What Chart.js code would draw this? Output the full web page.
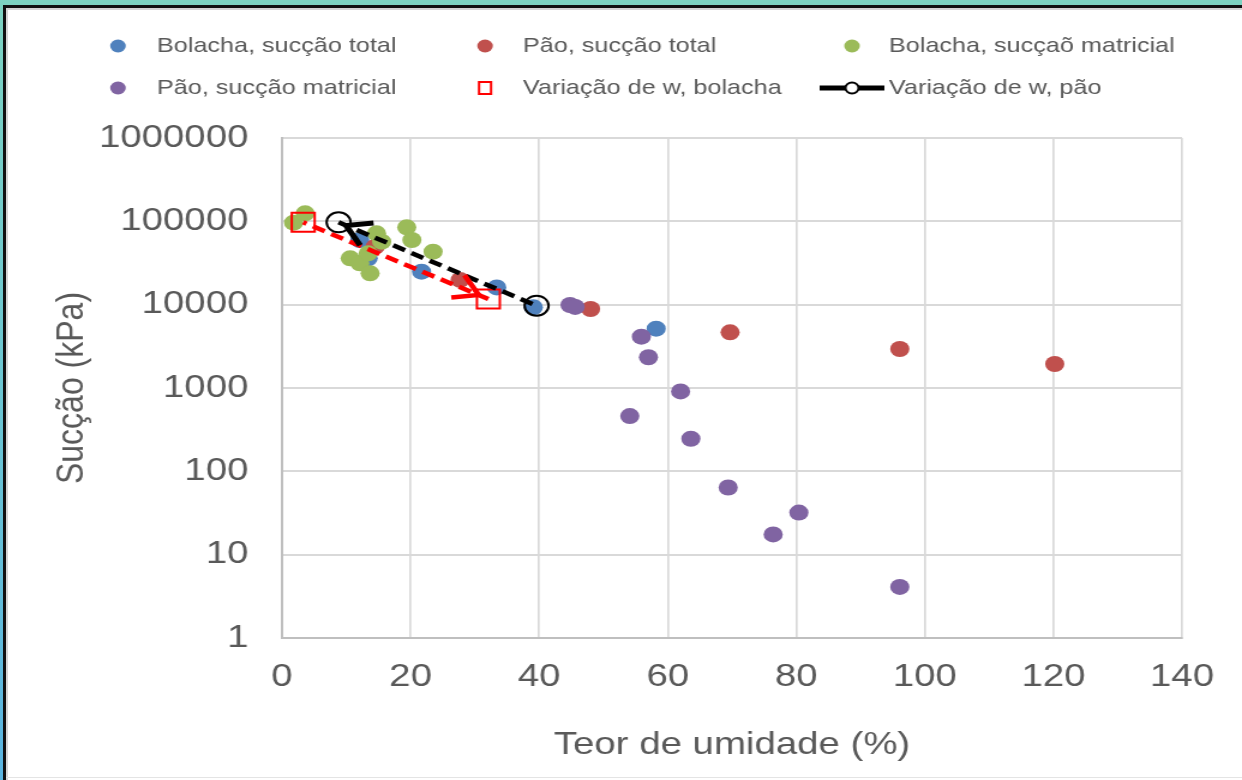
<!DOCTYPE html>
<html>
<head>
<meta charset="utf-8">
<script src="https://cdn.jsdelivr.net/npm/chart.js@4"></script>
<style>
  html, body { margin: 0; padding: 0; background: #fff; width: 1242px; height: 780px; overflow: hidden; }
  #wrap { position: absolute; left: 0; top: 0; width: 1035px; height: 780px; transform: scaleX(1.2); transform-origin: 0 0; }
  #c { display: block; }
  .b { position: absolute; }
</style>
</head>
<body>
<div id="wrap"><canvas id="c" width="1035" height="780"></canvas></div>
<div class="b" style="left:0;top:0;width:1242px;height:5px;background:#7dd3c1"></div>
<div class="b" style="left:0;top:0;width:3px;height:780px;background:linear-gradient(#7dd3c1,#6cc6d2 50%,#5ab4e0)"></div>
<div class="b" style="left:3px;top:5px;width:1239px;height:3px;background:#111"></div>
<div class="b" style="left:3px;top:5px;width:3px;height:775px;background:#111"></div>
<div class="b" style="left:6px;top:8px;width:1236px;height:2px;background:#d4d4d4"></div>
<div class="b" style="left:6px;top:8px;width:2px;height:772px;background:#d4d4d4"></div>
<div class="b" style="left:6px;top:777px;width:1236px;height:1px;background:#e4e4e4"></div>
<script>
// ---- data ----
const seriesLabels = [
  'Bolacha, sucção total',
  'Pão, sucção total',
  'Bolacha, sucçaõ matricial',
  'Pão, sucção matricial',
  'Variação de w, bolacha',
  'Variação de w, pão'
];

const bolachaTotalX = [12.1, 13.4, 21.7, 33.4, 39.1, 58.2];
const bolachaTotalY = [59700, 36000, 24900, 16100, 9300, 5150];

const paoTotalX = [14.5, 27.7, 48.0, 69.7, 96.1, 120.2];
const paoTotalY = [49600, 19800, 8870, 4660, 2940, 1940];

const bolachaMatX = [1.8, 3.6, 10.6, 12.1, 13.4, 13.7, 14.7, 15.5, 19.4, 20.2, 23.5];
const bolachaMatY = [96400, 124800, 36000, 31400, 41300, 23800, 71800, 57000, 84800, 59700, 43200];

const paoMatX = [44.8, 45.6, 54.1, 55.9, 57.0, 62.0, 63.6, 69.4, 76.4, 80.4, 96.1];
const paoMatY = [9900, 9400, 460, 4130, 2340, 910, 246, 64, 17.5, 32, 4.1];

const varBolachaX = [3.3, 32.1];
const varBolachaY = [97300, 11700];

const varPaoX = [8.8, 39.6];
const varPaoY = [97300, 9730];

const xTickValues = [0, 20, 40, 60, 80, 100, 120, 140];
const yTickValues = [1, 10, 100, 1000, 10000, 100000, 1000000];

const xTitle = 'Teor de umidade (%)';
const yTitle = 'Sucção (kPa)';

// ---- build ----
const pts = (xs, ys) => xs.map((x, i) => ({ x: x, y: ys[i] }));
const BLUE = '#4f81bd', RED = '#c0504d', GREEN = '#9bbb59', PURPLE = '#8064a2';
const TXT = '#595959';
const FONT = "'Liberation Sans', Arial, sans-serif";

const dot = (label, data, color, order) => ({
  label, data, order, showLine: false,
  pointStyle: 'circle', pointRadius: 8, pointHoverRadius: 8,
  backgroundColor: color, borderColor: color, pointBorderWidth: 0
});

const datasets = [
  dot(seriesLabels[0], pts(bolachaTotalX, bolachaTotalY), BLUE, 6),
  dot(seriesLabels[1], pts(paoTotalX, paoTotalY), RED, 5),
  dot(seriesLabels[2], pts(bolachaMatX, bolachaMatY), GREEN, 4),
  dot(seriesLabels[3], pts(paoMatX, paoMatY), PURPLE, 3),
  {
    label: seriesLabels[4], data: pts(varBolachaX, varBolachaY), order: 2,
    showLine: true, borderColor: '#ff0000', borderWidth: 4.5, borderDash: [11, 6], borderDashOffset: 8,
    pointStyle: 'rect', pointRadius: 13.5, pointHoverRadius: 13.5,
    pointBackgroundColor: 'rgba(0,0,0,0)', pointBorderColor: '#ff0000', pointBorderWidth: 2
  },
  {
    label: seriesLabels[5], data: pts(varPaoX, varPaoY), order: 1,
    showLine: true, borderColor: '#000000', borderWidth: 4.5, borderDash: [11, 6],
    pointStyle: 'circle', pointRadius: 10, pointHoverRadius: 10,
    pointBackgroundColor: 'rgba(0,0,0,0)', pointBorderColor: '#000000', pointBorderWidth: 2
  }
];

const arrowCfg = { 4: { at: 'end', back: 9, len: 23, color: '#ff0000', w: 4.5 },
                   5: { at: 'start', back: 7, len: 23, color: '#000000', w: 5 } };

const arrowPlugin = {
  id: 'arrows',
  afterDatasetsDraw(chart) {
    const ctx = chart.ctx;
    Object.keys(arrowCfg).forEach(k => {
      const cfg = arrowCfg[k];
      const p = chart.getDatasetMeta(+k).data;
      const n = p.length;
      const tip = cfg.at === 'end' ? p[n - 1] : p[0];
      const from = cfg.at === 'end' ? p[n - 2] : p[1];
      const ang = Math.atan2(tip.y - from.y, tip.x - from.x);
      const tx = tip.x - Math.cos(ang) * cfg.back, ty = tip.y - Math.sin(ang) * cfg.back;
      const sp = Math.PI / 5.5;
      ctx.save();
      ctx.strokeStyle = cfg.color; ctx.lineWidth = cfg.w; ctx.setLineDash([]);
      ctx.lineCap = 'butt'; ctx.lineJoin = 'miter';
      ctx.beginPath();
      ctx.moveTo(tx - cfg.len * Math.cos(ang - sp), ty - cfg.len * Math.sin(ang - sp));
      ctx.lineTo(tx, ty);
      ctx.lineTo(tx - cfg.len * Math.cos(ang + sp), ty - cfg.len * Math.sin(ang + sp));
      ctx.stroke();
      ctx.restore();
    });
  }
};

const legendPlugin = {
  id: 'customLegend',
  afterDraw(chart) {
    const ctx = chart.ctx;
    const colMarker = [98.3, 404.2, 710];
    const colText = [130.8, 435.8, 740.8];
    const rowY = [46, 88];
    ctx.save();
    ctx.font = '21px ' + FONT;
    ctx.textBaseline = 'middle';
    ctx.textAlign = 'left';
    chart.data.datasets.forEach((ds, i) => {
      const col = i % 3, row = Math.floor(i / 3);
      const mx = colMarker[col], my = rowY[row];
      if (i < 4) {
        ctx.fillStyle = ds.backgroundColor;
        ctx.beginPath(); ctx.arc(mx, my, 6.5, 0, Math.PI * 2); ctx.fill();
      } else if (i === 4) {
        ctx.strokeStyle = '#ff0000'; ctx.lineWidth = 2;
        ctx.strokeRect(mx - 5, my - 6, 10, 12);
      } else {
        ctx.strokeStyle = '#000'; ctx.lineWidth = 5;
        ctx.beginPath(); ctx.moveTo(mx - 27, my); ctx.lineTo(mx + 27, my); ctx.stroke();
        ctx.fillStyle = '#fff'; ctx.lineWidth = 2;
        ctx.beginPath(); ctx.arc(mx, my, 5.5, 0, Math.PI * 2); ctx.fill(); ctx.stroke();
      }
      ctx.fillStyle = TXT;
      ctx.fillText(ds.label, colText[col], my);
    });
    ctx.restore();
  }
};

new Chart(document.getElementById('c'), {
  type: 'scatter',
  data: { datasets },
  plugins: [arrowPlugin, legendPlugin],
  options: {
    responsive: false,
    animation: false,
    devicePixelRatio: 1,
    layout: { padding: { left: 40.8, right: 50, top: 138, bottom: 15.8 } },
    plugins: { legend: { display: false }, tooltip: { enabled: false } },
    scales: {
      x: {
        type: 'linear', min: 0, max: 140,
        afterBuildTicks: s => { s.ticks = xTickValues.map(v => ({ value: v })); },
        afterFit: s => { s.height = 780 - 638 - 15.8; },
        ticks: { color: TXT, font: { family: FONT, size: 32 }, padding: 20, maxRotation: 0, autoSkip: false,
                 callback: v => String(v) },
        grid: { color: '#d9d9d9', lineWidth: 1.7, drawTicks: false },
        border: { color: '#bfbfbf', width: 2 },
        title: { display: true, text: xTitle, color: TXT, font: { family: FONT, size: 32 }, padding: 0 }
      },
      y: {
        type: 'logarithmic', min: 1, max: 1000000,
        afterBuildTicks: s => { s.ticks = yTickValues.map(v => ({ value: v })); },
        afterFit: s => { s.width = 235 - 40.8; },
        ticks: { color: TXT, font: { family: FONT, size: 32 }, padding: 28, autoSkip: false,
                 callback: v => String(v) },
        grid: { color: '#d9d9d9', lineWidth: 2, drawTicks: false },
        border: { color: '#bfbfbf', width: 2 },
        title: { display: true, text: yTitle, color: TXT, font: { family: FONT, size: 32 }, padding: 0 }
      }
    }
  }
});
</script>
</body>
</html>
